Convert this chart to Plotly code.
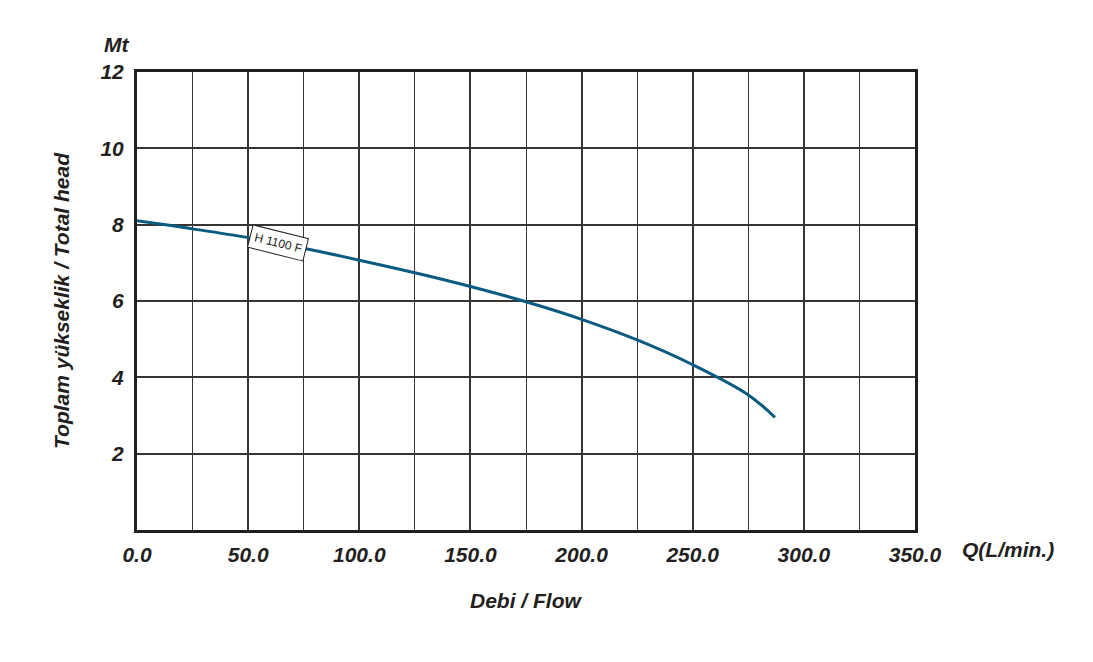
import plotly.graph_objects as go

flow = [0, 25, 50, 75, 100, 125, 150, 175, 200, 225, 250, 275, 287]
head = [8.1, 7.89, 7.66, 7.38, 7.07, 6.74, 6.38, 5.98, 5.52, 4.98, 4.33, 3.54, 2.95]
x_ticks = [0, 50, 100, 150, 200, 250, 300, 350]
x_tick_labels = ["0.0", "50.0", "100.0", "150.0", "200.0", "250.0", "300.0", "350.0"]
y_ticks = [2, 4, 6, 8, 10, 12]
curve_name = "H 1100 F"

FONT = "Liberation Sans, Arial"

fig = go.Figure()
fig.add_trace(go.Scatter(
    x=flow, y=head, mode="lines",
    line=dict(color="#0b5a80", width=3, shape="spline", smoothing=1.0),
    showlegend=False, hoverinfo="x+y",
))

big = dict(family=FONT, size=21, color="#231f20", weight="bold", style="italic")

fig.update_layout(
    width=1093, height=662,
    margin=dict(l=137, r=178, t=72, b=132),
    paper_bgcolor="white", plot_bgcolor="white",
    font=dict(family=FONT, color="#231f20"),
    xaxis=dict(
        range=[0, 350], tickvals=x_ticks, ticktext=x_tick_labels,
        showgrid=True, gridcolor="#3a3535", gridwidth=1.6,
        minor=dict(dtick=25, tick0=0, showgrid=True, gridcolor="#3a3535", gridwidth=1),
        showline=True, linecolor="#231f20", linewidth=3, mirror=True,
        ticks="", ticklabelstandoff=4, tickfont=big,
        zeroline=False, fixedrange=True,
    ),
    yaxis=dict(
        range=[0, 12], tickvals=y_ticks,
        showgrid=True, gridcolor="#3a3535", gridwidth=1.6,
        showline=True, linecolor="#231f20", linewidth=3, mirror=True,
        ticks="", ticklabelstandoff=6, tickfont=big,
        zeroline=False, fixedrange=True,
    ),
)

fig.add_annotation(
    x=63.5, y=7.52, xref="x", yref="y", text=curve_name, showarrow=False,
    textangle=14, bgcolor="white", bordercolor="#231f20", borderwidth=1, borderpad=4,
    font=dict(family=FONT, size=12, color="#231f20"),
)
fig.add_annotation(
    x=-0.045, y=1.0, xref="paper", yref="paper", text="Mt", showarrow=False,
    xanchor="left", yanchor="bottom", yshift=14, font=big,
)
fig.add_annotation(
    x=1.0, y=0, xref="paper", yref="paper", text="Q(L/min.)", showarrow=False,
    xanchor="left", yanchor="top", xshift=45, yshift=-6, font=big,
)
fig.add_annotation(
    x=0.5, y=0, xref="paper", yref="paper", text="Debi / Flow", showarrow=False,
    xanchor="center", yanchor="middle", yshift=-70, font=big,
)
fig.add_annotation(
    x=0, y=0.5, xref="paper", yref="paper", text="Toplam yükseklik / Total head", showarrow=False,
    xanchor="center", yanchor="middle", xshift=-76, textangle=-90, font=big,
)

fig.write_html("out.html")
